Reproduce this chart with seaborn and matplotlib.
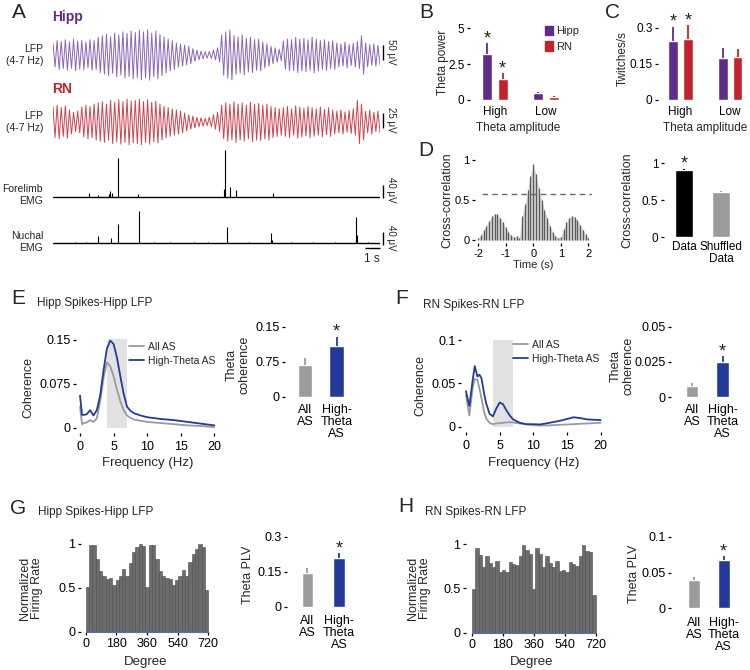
import numpy as np
import pandas as pd
import matplotlib
matplotlib.use("Agg")
import matplotlib.pyplot as plt
import seaborn as sns
from matplotlib.patches import Patch
from matplotlib.lines import Line2D

# ---------------- data ----------------
# A: per-cycle LFP amplitudes (uV) and EMG events (s, uV)
trace_duration = 22.0
hipp_amp = [40, 48, 45, 51, 44, 53, 47, 49, 43, 51, 48,
            59, 64, 69, 61, 73, 67, 77, 72, 80, 75, 83, 77, 84, 73, 80, 69,
            60, 53, 48, 40, 37, 33, 29,
            21, 16, 13, 11, 12, 16, 24,
            67, 77, 83,
            64, 60, 67, 56, 59, 51, 53, 43, 37, 29, 24, 19,
            47, 53, 51, 59, 53, 56, 51, 60, 53, 48, 51, 45, 48,
            40, 37, 43, 35, 40, 45, 64, 40, 35, 37, 32]
rn_amp = [26, 28, 24, 27, 20, 16, 18, 25, 28, 26, 30,
          32, 34, 30, 36, 33, 37, 34, 38, 35, 36, 38, 34, 37, 33, 35, 30,
          26, 24, 22, 20, 18, 15, 12,
          10, 8, 7, 6, 8, 12, 16,
          28, 32, 30, 34, 30, 32, 28, 33, 30, 31, 28, 30, 26, 24, 22,
          24, 26, 22, 27, 25, 23, 26, 24, 22, 25, 21, 24, 20,
          18, 20, 17, 19, 22, 36, 30, 18, 20, 16, 18]
forelimb_t = [2.44, 3.05, 3.75, 3.84, 3.95, 4.40, 5.74, 11.52, 11.57, 11.91, 12.31, 14.78]
forelimb_uv = [12, 5, 10, 18, 12, 118, 10, 25, 140, 30, 20, 12]
nuchal_t = [1.5, 2.2, 3.01, 3.91, 4.40, 5.76, 6.8, 7.9, 9.5, 10.4, 11.68, 13.2,
            14.65, 14.75, 16.0, 17.5, 19.0, 20.40, 20.48, 21.2]
nuchal_uv = [3, 4, 22, 15, 58, 98, 4, 3, 4, 3, 50, 4, 32, 10, 3, 4, 3, 78, 25, 3]

# B / C
amp_levels = ["High", "Low"]
b_mean_hipp = [3.2, 0.46]
b_sem_hipp = [0.75, 0.10]
b_mean_rn = [1.45, 0.20]
b_sem_rn = [0.40, 0.06]
c_mean_hipp = [0.247, 0.176]
c_sem_hipp = [0.058, 0.039]
c_mean_rn = [0.255, 0.178]
c_sem_rn = [0.057, 0.033]

# D
xcorr_val = [0.02, 0.06, 0.12, 0.18, 0.24, 0.30, 0.33, 0.32, 0.28, 0.22, 0.16,
             0.10, 0.06, 0.04, 0.05, 0.03, 0.30, 0.45, 0.62, 0.80, 0.95,
             0.82, 0.65, 0.50, 0.38, 0.28, 0.18, 0.10, 0.05, 0.03, 0.04,
             0.14, 0.22, 0.28, 0.30, 0.29, 0.25, 0.19, 0.13, 0.07, 0.03]
xcorr_thresh = 0.575
d_cats = ["Data", "Shuffled\nData"]
d_mean = [0.905, 0.605]
d_sem = [0.02, 0.012]

# E / F coherence spectra
theta_band = [4, 7]
e_freq = [0, 0.3, 0.6, 1, 1.5, 2, 2.5, 3, 3.5, 4, 4.5, 5, 5.5, 6, 6.5, 7, 7.5, 8,
          9, 10, 12, 14, 16, 18, 20]
e_high = [0.055, 0.022, 0.022, 0.023, 0.030, 0.021, 0.030, 0.055, 0.098, 0.135,
          0.149, 0.143, 0.120, 0.088, 0.058, 0.036, 0.029, 0.025, 0.021, 0.018,
          0.015, 0.013, 0.010, 0.007, 0.004]
e_all = [0.036, 0.006, 0.008, 0.009, 0.013, 0.010, 0.016, 0.045, 0.085, 0.112,
         0.105, 0.088, 0.065, 0.045, 0.030, 0.021, 0.017, 0.014, 0.012, 0.010,
         0.008, 0.006, 0.004, 0.003, 0.001]
e_cats = ["All\nAS", "High-\nTheta\nAS"]
e_mean = [0.068, 0.109]
e_sem = [0.016, 0.020]

f_freq = [0, 0.5, 1, 1.3, 1.7, 2, 2.3, 2.7, 3, 3.5, 4, 4.5, 5, 5.5, 6, 6.5, 7, 8,
          9, 10, 11, 12, 14, 16, 17, 18, 20]
f_high = [0.041, 0.024, 0.054, 0.070, 0.058, 0.060, 0.056, 0.038, 0.027, 0.015,
          0.012, 0.021, 0.028, 0.026, 0.019, 0.013, 0.0085, 0.0046, 0.003, 0.003,
          0.0027, 0.004, 0.007, 0.011, 0.010, 0.0085, 0.0077]
f_all = [0.036, 0.013, 0.046, 0.055, 0.054, 0.044, 0.033, 0.017, 0.0096, 0.0046,
         0.003, 0.0038, 0.0042, 0.0046, 0.005, 0.0054, 0.005, 0.0038, 0.0027, 0.0019,
         0.0015, 0.0015, 0.0023, 0.003, 0.0035, 0.0038, 0.0046]
f_mean = [0.008, 0.0248]
f_sem = [0.0019, 0.0042]

# G / H phase histograms (normalized firing rate) and PLV
g_rate = [0.51, 0.99, 0.99, 0.83, 0.69, 0.63, 0.60, 0.61, 0.53, 0.59, 0.63, 0.71,
          0.64, 0.78, 0.91, 0.96, 1.00, 0.98, 0.51, 0.99, 0.99, 0.83, 0.69, 0.63,
          0.61, 0.60, 0.53, 0.59, 0.64, 0.70, 0.64, 0.79, 0.89, 0.94, 1.00, 0.97, 0.48]
h_rate = [0.49, 0.96, 0.88, 0.74, 0.87, 0.79, 0.74, 0.81, 0.69, 0.71, 0.68, 0.80,
          0.77, 0.76, 0.86, 0.99, 0.93, 0.89, 0.49, 0.96, 0.89, 0.74, 0.87, 0.79,
          0.74, 0.81, 0.70, 0.71, 0.69, 0.80, 0.77, 0.75, 0.87, 0.99, 0.92, 0.91, 0.42]
g_mean = [0.146, 0.210]
g_sem = [0.021, 0.019]
h_mean = [0.0395, 0.0675]
h_sem = [0.0045, 0.0055]
ab_cats = ["All\nAS", "High-\nTheta\nAS"]

# ---------------- style ----------------
sns.set_theme(style="ticks")
plt.rcParams["font.family"] = ["Liberation Sans", "DejaVu Sans"]
plt.rcParams["axes.unicode_minus"] = False

PURPLE = "#5E2D8C"
PURPLE_T = "#8a66b6"
RED = "#C1232E"
RED_T = "#d0434d"
BLUE = "#233A9B"
GRAYB = "#9C9C9C"
HISTC = "#6c6c6c"

W, H = 750, 670
fig = plt.figure(figsize=(W / 100, H / 100), dpi=100)


def px_axes(x0, y0, x1, y1):
    ax = fig.add_axes([x0 / W, 1 - y1 / H, (x1 - x0) / W, (y1 - y0) / H])
    ax.set_facecolor("none")
    return ax


def ftext(x, y, s, **kw):
    kw.setdefault("ha", "center")
    kw.setdefault("va", "center")
    fig.text(x / W, 1 - y / H, s, **kw)


def clean(ax, size=8.5):
    for s in ax.spines.values():
        s.set_visible(False)
    ax.tick_params(axis="both", direction="out", length=2.5, width=0.9,
                   colors="black", labelsize=size, pad=1.5)
    ax.set_xlabel("")
    ax.set_ylabel("")


def errs(ax, means, sems, colors, sig, star=13):
    for p, m, s, c, sg in zip(ax.patches, means, sems, colors, sig):
        xc = p.get_x() + p.get_width() / 2
        ax.vlines(xc, m, m + s, color=c, lw=1.3)
        if sg:
            ax.annotate("*", (xc, m + s), xytext=(0, 0.0), textcoords="offset points",
                        ha="center", va="baseline", fontsize=star, color="#222222")


def simple_bars(ax, cats, means, sems, colors, width, sig):
    df = pd.DataFrame({"cat": cats, "val": means})
    sns.barplot(data=df, x="cat", y="val", hue="cat", palette=colors, width=width,
                saturation=1, errorbar=None, legend=False, ax=ax)
    errs(ax, means, sems, colors, sig)


# ---------------- Panel A ----------------
ftext(19, 13, "A", fontsize=15)
ftext(52, 17, "Hipp", color=PURPLE, fontweight="bold", fontsize=10, ha="left")
ftext(52, 89, "RN", color=RED, fontweight="bold", fontsize=10, ha="left")
for yy, s in [(55, "LFP\n(4-7 Hz)"), (122, "LFP\n(4-7 Hz)"),
              (195, "Forelimb\nEMG"), (242, "Nuchal\nEMG")]:
    ftext(43, yy, s, ha="right", multialignment="right", fontsize=7.5, linespacing=1.15)


def lfp(ax, amps, color):
    a = np.asarray(amps, float)
    y = np.column_stack([a, -a]).ravel()
    t = np.linspace(0, trace_duration, len(y))
    ax.plot(t, y, color=color, lw=0.7)


axA1 = px_axes(53, 22, 380, 90)
lfp(axA1, hipp_amp, PURPLE_T)
axA1.set_ylim(-116.7, 110)
axA1.vlines(22.2, -16.7, 33.3, color="black", lw=1.0, clip_on=False)
axA2 = px_axes(53, 95, 380, 150)
lfp(axA2, rn_amp, RED_T)
axA2.set_ylim(-46.7, 45)
axA2.vlines(22.2, -10.5, 14.5, color="black", lw=1.0, clip_on=False)
axA3 = px_axes(53, 145, 380, 200)
axA3.plot([0, trace_duration], [0, 0], color="black", lw=1.0)
axA3.vlines(forelimb_t, 0, forelimb_uv, color="black", lw=0.8)
axA3.set_ylim(-9, 156)
axA3.vlines(22.2, -4, 36, color="black", lw=1.0, clip_on=False)
axA4 = px_axes(53, 205, 380, 247)
axA4.plot([0, trace_duration], [0, 0], color="black", lw=1.0)
axA4.vlines(nuchal_t, 0, nuchal_uv, color="black", lw=0.8)
axA4.set_ylim(-11, 115)
axA4.vlines(22.2, -5, 35, color="black", lw=1.0, clip_on=False)
axA4.hlines(-15, 21.0, 22.0, color="black", lw=1.0, clip_on=False)
for ax in (axA1, axA2, axA3, axA4):
    ax.set_xlim(0, trace_duration)
    ax.axis("off")
for yy, s in [(52, "50 μV"), (120, "25 μV"), (190, "40 μV"), (238, "40 μV")]:
    ftext(391, yy, s, rotation=-90, fontsize=7)
ftext(372, 259, "1 s", fontsize=8.5)

# ---------------- Panel B ----------------
ftext(426, 13, "B", fontsize=15)
axB = px_axes(470, 22, 565, 100)
dfB = pd.DataFrame({"amp": amp_levels * 2, "region": ["Hipp"] * 2 + ["RN"] * 2,
                    "val": b_mean_hipp + b_mean_rn})
sns.barplot(data=dfB, x="amp", y="val", hue="region", palette=[PURPLE, RED], width=0.6,
            gap=0.35, saturation=1, errorbar=None, legend=False, ax=axB)
errs(axB, b_mean_hipp + b_mean_rn, b_sem_hipp + b_sem_rn, [PURPLE, PURPLE, RED, RED],
     [True, False, True, False])
clean(axB, 8.5)
axB.set_xlim(-0.49, 1.37)
axB.set_ylim(0, 5.42)
axB.set_yticks([0, 2.5, 5], ["0", "2.5", "5"])
axB.tick_params(axis="x", length=0, pad=4)
ftext(443, 62, "Theta power", rotation=90, fontsize=8.5)
ftext(518, 128, "Theta amplitude", fontsize=8.5)
axB.legend(handles=[Patch(color=PURPLE, label="Hipp"), Patch(color=RED, label="RN")],
           loc="upper left", bbox_to_anchor=(545 / W, 1 - 26 / H), bbox_transform=fig.transFigure,
           frameon=False, handlelength=0.7, handleheight=0.9, handletextpad=0.3,
           labelspacing=0.45, fontsize=8, borderpad=0, borderaxespad=0)

# ---------------- Panel C ----------------
ftext(613, 13, "C", fontsize=15)
axC = px_axes(658, 22, 750, 100)
dfC = pd.DataFrame({"amp": amp_levels * 2, "region": ["Hipp"] * 2 + ["RN"] * 2,
                    "val": c_mean_hipp + c_mean_rn})
sns.barplot(data=dfC, x="amp", y="val", hue="region", palette=[PURPLE, RED], width=0.6,
            gap=0.35, saturation=1, errorbar=None, legend=False, ax=axC)
errs(axC, c_mean_hipp + c_mean_rn, c_sem_hipp + c_sem_rn, [PURPLE, PURPLE, RED, RED],
     [True, False, True, False])
clean(axC, 8.5)
axC.set_xlim(-0.455, 1.40)
axC.set_ylim(0, 0.325)
axC.set_yticks([0, 0.15, 0.3], ["0", "0.15", "0.3"])
axC.tick_params(axis="x", length=0, pad=4)
ftext(623, 59, "Twitches/s", rotation=90, fontsize=8.5)
ftext(705, 128, "Theta amplitude", fontsize=8.5)

# ---------------- Panel D ----------------
ftext(426, 150, "D", fontsize=15)
axD = px_axes(475, 155, 592, 243)
lags = np.linspace(-2, 2, len(xcorr_val))
axD.fill_between(lags, xcorr_val, 0, color="#d2d2d2", lw=0)
axD.vlines(lags, 0, xcorr_val, color="#5a5a5a", lw=0.9)
axD.axhline(xcorr_thresh, xmin=0.06, xmax=1.0, color="#666666", lw=1.0, ls=(0, (4, 3)))
clean(axD, 7.5)
axD.set_xlim(-2.11, 2.13)
axD.set_ylim(-0.0375, 1.0625)
axD.set_xticks([-2, -1, 0, 1, 2], ["-2", "-1", "0", "1", "2"])
axD.set_yticks([0, 0.5, 1], ["0", "0.5", "1"])
axD.tick_params(labelsize=8)
ftext(447, 200, "Cross-correlation", rotation=90, fontsize=9)
ftext(533, 265, "Time (s)", fontsize=8)

axD2 = px_axes(664, 155, 745, 237.3)
simple_bars(axD2, d_cats, d_mean, d_sem, ["#000000", GRAYB], 0.48, [True, False])
clean(axD2, 8.5)
axD2.set_xlim(-0.54, 1.65)
axD2.set_ylim(0, 1.108)
axD2.set_yticks([0, 0.5, 1], ["0", "0.5", "1"])
axD2.tick_params(axis="x", length=0, pad=3)
for t in axD2.get_xticklabels():
    t.set_linespacing(1.0)
ftext(627, 200, "Cross-correlation", rotation=90, fontsize=9)

# ---------------- Panel E ----------------
ftext(18, 299, "E", fontsize=15)
ftext(37, 303, "Hipp Spikes-Hipp LFP", ha="left", fontsize=8.5)
axE = px_axes(76, 335, 218, 433)
axE.fill_between(theta_band, 0, 0.152, color="#e2e2e2", lw=0)
sns.lineplot(x=e_freq, y=e_all, color="#9a9a9a", lw=1.3, ax=axE)
sns.lineplot(x=e_freq, y=e_high, color=BLUE, lw=1.3, ax=axE)
clean(axE, 9)
axE.set_xlim(-0.6, 20.55)
axE.set_ylim(-0.009, 0.1585)
axE.set_xticks([0, 5, 10, 15, 20])
axE.set_yticks([0, 0.075, 0.15], ["0", "0.075", "0.15"])
axE.tick_params(axis="x", pad=3)
ftext(28, 387, "Coherence", rotation=90, fontsize=9)
ftext(148, 463, "Frequency (Hz)", fontsize=9.5)
leg_handles = [Line2D([], [], color="#9a9a9a", lw=1.3, label="All AS"),
               Line2D([], [], color=BLUE, lw=1.3, label="High-Theta AS")]
axE.legend(handles=leg_handles, loc="upper left", bbox_to_anchor=(129 / W, 1 - 342 / H),
           bbox_transform=fig.transFigure, frameon=False, handlelength=1.4,
           handletextpad=0.4, labelspacing=0.35, fontsize=7.5, borderpad=0, borderaxespad=0)

axE2 = px_axes(285, 320, 355, 396.7)
simple_bars(axE2, e_cats, e_mean, e_sem, [GRAYB, BLUE], 0.46, [False, True])
clean(axE2, 9)
axE2.set_xlim(-0.63, 1.58)
axE2.set_ylim(0, 0.1644)
axE2.set_yticks([0, 0.075, 0.15], ["0", "0.75", "0.15"])
axE2.tick_params(axis="x", length=0, pad=5)
for t in axE2.get_xticklabels():
    t.set_linespacing(1.0)
ftext(238, 365, "Theta\ncoherence", rotation=90, fontsize=9, linespacing=1.0)

# ---------------- Panel F ----------------
ftext(402, 299, "F", fontsize=15)
ftext(423, 305, "RN Spikes-RN LFP", ha="left", fontsize=8.5)
axF = px_axes(461, 335, 604, 432)
axF.fill_between(theta_band, 0, 0.1, color="#e2e2e2", lw=0)
sns.lineplot(x=f_freq, y=f_all, color="#9a9a9a", lw=1.3, ax=axF)
sns.lineplot(x=f_freq, y=f_high, color=BLUE, lw=1.3, ax=axF)
clean(axF, 9)
axF.set_xlim(-0.74, 20.5)
axF.set_ylim(-0.006, 0.1058)
axF.set_xticks([0, 5, 10, 15, 20])
axF.set_yticks([0, 0.05, 0.1], ["0", "0.05", "0.1"])
axF.tick_params(axis="x", pad=3)
ftext(420, 386, "Coherence", rotation=90, fontsize=9)
ftext(534, 463, "Frequency (Hz)", fontsize=9.5)
axF.legend(handles=leg_handles, loc="upper left", bbox_to_anchor=(513 / W, 1 - 340 / H),
           bbox_transform=fig.transFigure, frameon=False, handlelength=1.4,
           handletextpad=0.4, labelspacing=0.35, fontsize=7.5, borderpad=0, borderaxespad=0)

axF2 = px_axes(671, 320, 745, 397.3)
simple_bars(axF2, e_cats, f_mean, f_sem, [GRAYB, BLUE], 0.40, [False, True])
clean(axF2, 9)
axF2.set_xlim(-0.70, 1.74)
axF2.set_ylim(0, 0.0547)
axF2.set_yticks([0, 0.025, 0.05], ["0", "0.025", "0.05"])
axF2.tick_params(axis="x", length=0, pad=5)
for t in axF2.get_xticklabels():
    t.set_linespacing(1.0)
ftext(622, 366, "Theta\ncoherence", rotation=90, fontsize=9, linespacing=1.0)

# ---------------- Panels G / H ----------------
n_bins = len(g_rate)
edges = np.linspace(0, 720, n_bins + 1)
centers = (edges[:-1] + edges[1:]) / 2


def phase_hist(box, rates):
    ax = px_axes(*box)
    dfh = pd.DataFrame({"deg": centers, "rate": rates})
    sns.histplot(data=dfh, x="deg", weights="rate", bins=n_bins, binrange=(0, 720),
                 color=HISTC, edgecolor="#4a4a4a", linewidth=0.4, alpha=1, ax=ax)
    clean(ax, 9)
    ax.spines["bottom"].set_visible(True)
    ax.spines["bottom"].set_color("#4a72c0")
    ax.spines["bottom"].set_linewidth(0.8)
    ax.spines["bottom"].set_bounds(0, 720)
    ax.tick_params(axis="x", colors="black")
    ax.set_xticks([0, 180, 360, 540, 720])
    ax.set_yticks([0, 0.5, 1], ["0", "0.5", "1"])
    ax.tick_params(axis="x", pad=2)
    return ax


ftext(18, 508, "G", fontsize=15)
ftext(38, 512, "Hipp Spikes-Hipp LFP", ha="left", fontsize=8.5)
axG = phase_hist((81, 538, 212, 631.7), g_rate)
axG.set_xlim(-27.6, 741.7)
axG.set_ylim(0, 1.068)
ftext(31, 588, "Normalized\nFiring Rate", rotation=90, fontsize=9, linespacing=1.0)
ftext(146, 662, "Degree", fontsize=9.5)

axG2 = px_axes(287, 532, 355, 606.7)
simple_bars(axG2, ab_cats, g_mean, g_sem, [GRAYB, BLUE], 0.37, [False, True])
clean(axG2, 9)
axG2.set_xlim(-0.65, 1.51)
axG2.set_ylim(0, 0.32)
axG2.set_yticks([0, 0.15, 0.3], ["0", "0.15", "0.3"])
axG2.tick_params(axis="x", length=0, pad=6)
for t in axG2.get_xticklabels():
    t.set_linespacing(1.0)
ftext(248, 575, "Theta PLV", rotation=90, fontsize=9)

ftext(406, 507, "H", fontsize=15)
ftext(425, 512, "RN Spikes-RN LFP", ha="left", fontsize=8.5)
axH = phase_hist((466, 538, 599, 632.7), h_rate)
axH.set_xlim(-35, 740.4)
axH.set_ylim(0, 1.068)
ftext(419, 588, "Normalized\nFiring Rate", rotation=90, fontsize=9, linespacing=1.0)
ftext(532, 662, "Degree", fontsize=9.5)

axH2 = px_axes(671, 532, 745, 608.3)
simple_bars(axH2, ab_cats, h_mean, h_sem, [GRAYB, BLUE], 0.40, [False, True])
clean(axH2, 9)
axH2.set_xlim(-0.77, 1.72)
axH2.set_ylim(0, 0.1066)
axH2.set_yticks([0, 0.05, 0.1], ["0", "0.05", "0.1"])
axH2.tick_params(axis="x", length=0, pad=6)
for t in axH2.get_xticklabels():
    t.set_linespacing(1.0)
ftext(634, 574, "Theta PLV", rotation=90, fontsize=9)

fig.savefig("out.png", dpi=100)
